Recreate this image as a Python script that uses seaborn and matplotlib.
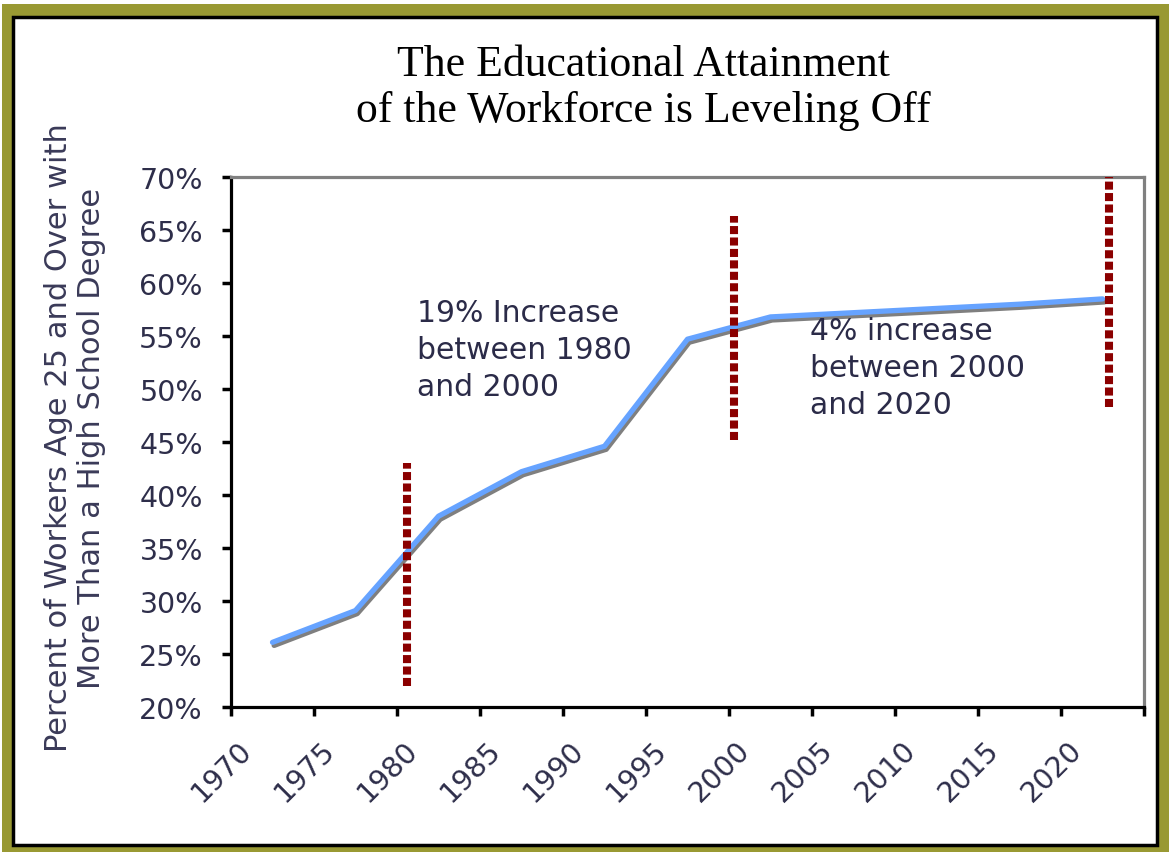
import matplotlib
matplotlib.use("Agg")
import matplotlib.pyplot as plt
import matplotlib.patheffects as pe
from matplotlib.patches import Rectangle
from matplotlib.transforms import ScaledTranslation
import seaborn as sns
import pandas as pd

# ---- data ----
years = [1972.5, 1977.5, 1982.5, 1987.5, 1992.5, 1997.5, 2002.5, 2007.5, 2012.5, 2017.5, 2022.5]
share = [26.1, 29.1, 38.0, 42.2, 44.6, 54.7, 56.8, 57.2, 57.6, 58.0, 58.5]

marker_years = [1980.6, 2000.3, 2022.9]
marker_low = [22.0, 45.2, 48.3]
marker_high = [43.0, 66.3, 70.0]

x_ticks = [1970, 1975, 1980, 1985, 1990, 1995, 2000, 2005, 2010, 2015, 2020, 2025]
x_tick_labels = ["1970", "1975", "1980", "1985", "1990", "1995", "2000", "2005", "2010", "2015", "2020", ""]
y_ticks = [20, 25, 30, 35, 40, 45, 50, 55, 60, 65, 70]
y_tick_labels = ["20%", "25%", "30%", "35%", "40%", "45%", "50%", "55%", "60%", "65%", "70%"]

title_text = "The Educational Attainment\nof the Workforce is Leveling Off"
ylabel_text = "Percent of Workers Age 25 and Over with\nMore Than a High School Degree"
note1 = "19% Increase\nbetween 1980\nand 2000"
note2 = "4% increase\nbetween 2000\nand 2020"

sns.set_theme(style="white")
plt.rcParams['font.family'] = ['DejaVu Sans']

W, H = 1169, 853
fig = plt.figure(figsize=(W / 100, H / 100), dpi=100)

def fx(px):
    return px / W

def fy(py):
    return 1 - py / H

# outer frame: olive band, black inner line, white field
fig.patches.append(Rectangle((fx(2), 0), 1 - fx(2), fy(5), transform=fig.transFigure,
                             facecolor="#999933", edgecolor="none", zorder=-3))
fig.patches.append(Rectangle((fx(13), fy(846)), fx(1157) - fx(13), fy(18) - fy(846),
                             transform=fig.transFigure, facecolor="white",
                             edgecolor="black", linewidth=2.5, zorder=-2))

ax = fig.add_axes([fx(231), fy(708), fx(1144) - fx(231), fy(178) - fy(708)])
ax.set_facecolor("none")
ax.set_zorder(1)

df = pd.DataFrame({"year": years, "share": share})
sns.lineplot(data=df, x="year", y="share", ax=ax, color="#66a3ff", linewidth=3.8,
             path_effects=[pe.SimpleLineShadow(offset=(1.2, -2.2), shadow_color="#7f7f7f", alpha=1.0),
                           pe.Normal()], zorder=3)

for xv, lo, hi in zip(marker_years, marker_low, marker_high):
    ax.plot([xv, xv], [lo, hi], color="#8b0000", linewidth=5.8,
            linestyle=(0, (1.0, 0.42)), solid_capstyle="butt", dash_capstyle="butt", zorder=4)

ax.set_xlim(1970, 2025)
ax.set_ylim(20, 70)
ax.set_xticks(x_ticks)
ax.set_xticklabels(x_tick_labels, rotation=45, fontsize=20.5, color="#2e2e4a")
ax.set_yticks(y_ticks)
ax.set_yticklabels(y_tick_labels, fontsize=20.5, color="#2e2e4a")
ax.set_xlabel("")
ax.set_ylabel("")
ax.tick_params(axis="both", which="both", direction="out", length=6.2, width=2.5, color="black",
               bottom=True, left=True)
ax.tick_params(axis="y", pad=14)
ax.tick_params(axis="x", pad=14)
shift = ScaledTranslation(-0.09, 0, fig.dpi_scale_trans)
for lab in ax.get_xticklabels():
    lab.set_transform(lab.get_transform() + shift)

for side, col in [("left", "black"), ("bottom", "black"), ("top", "#808080"), ("right", "#808080")]:
    ax.spines[side].set_visible(True)
    ax.spines[side].set_color(col)
    ax.spines[side].set_linewidth(2.3)

ax.text(1981.2, 58.6, note1, fontsize=21.5, color="#2b2b48", va="top", ha="left", linespacing=1.35)
ax.text(2004.9, 56.9, note2, fontsize=21.5, color="#2b2b48", va="top", ha="left", linespacing=1.35)

fig.text(fx(643), fy(88), title_text, ha="center", va="center", fontsize=31.5,
         family=["Liberation Serif", "DejaVu Serif"], color="black", linespacing=1.2)

fig.text(fx(75), fy(438), ylabel_text, ha="center", va="center", rotation=90,
         fontsize=22, color="#3a3a58", linespacing=1.2)

fig.savefig("out.png", dpi=100)
